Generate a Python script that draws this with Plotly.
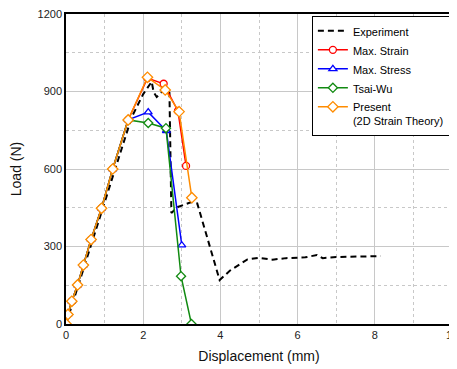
import plotly.graph_objects as go

# Shared initial loading points (displacement mm, load N)
x_common = [0.0, 0.05, 0.15, 0.30, 0.45, 0.65, 0.92, 1.21, 1.61]
y_common = [0, 37, 88, 151, 228, 327, 448, 600, 790]

exp_x = [0.0, 0.3, 0.7, 1.0, 1.3, 1.7, 2.0, 2.22, 2.27, 2.35, 2.45, 2.55, 2.68, 2.73,
         2.9, 3.25, 3.4, 3.98, 4.25, 4.7, 5.0, 5.35, 5.7, 6.2, 6.5, 6.65, 7.0, 7.5, 8.15]
exp_y = [0, 140, 330, 470, 610, 800, 890, 938, 898, 879, 893, 910, 895, 430,
         453, 472, 467, 170, 207, 250, 256, 249, 255, 258, 267, 255, 259, 261, 263]

strain_x = x_common + [2.11, 2.53, 2.90, 3.11]
strain_y = y_common + [952, 930, 825, 612]

stress_x = x_common + [2.13, 2.60, 3.00]
stress_y = y_common + [820, 748, 305]

tsai_x = x_common + [2.13, 2.59, 2.98, 3.25]
tsai_y = y_common + [778, 758, 185, 0]

present_x = x_common + [2.11, 2.57, 2.93, 3.26]
present_y = y_common + [955, 906, 822, 489]

FONT = "Liberation Sans, Arial, sans-serif"

fig = go.Figure()
fig.add_trace(go.Scatter(x=exp_x, y=exp_y, mode="lines", name="Experiment",
                         line=dict(color="black", width=2, dash="6px,4px")))
fig.add_trace(go.Scatter(x=strain_x, y=strain_y, mode="lines+markers", name="Max. Strain",
                         line=dict(color="#ff0000", width=1.5),
                         marker=dict(symbol="circle", size=7, color="white",
                                     line=dict(color="#ff0000", width=1.3))))
fig.add_trace(go.Scatter(x=stress_x, y=stress_y, mode="lines+markers", name="Max. Stress",
                         line=dict(color="#0000ff", width=1.5),
                         marker=dict(symbol="triangle-up", size=7, color="white",
                                     line=dict(color="#0000ff", width=1.3))))
fig.add_trace(go.Scatter(x=tsai_x, y=tsai_y, mode="lines+markers", name="Tsai-Wu",
                         line=dict(color="#118a11", width=1.5),
                         marker=dict(symbol="diamond", size=7, color="white",
                                     line=dict(color="#118a11", width=1.3))))
fig.add_trace(go.Scatter(x=present_x, y=present_y, mode="lines+markers",
                         name="Present<br>(2D Strain Theory)",
                         line=dict(color="#ff8c00", width=1.5),
                         marker=dict(symbol="diamond", size=8, color="white",
                                     line=dict(color="#ff8c00", width=1.3))))

axis_common = dict(showline=True, linecolor="black", linewidth=1.5, mirror=True,
                   showgrid=True, gridcolor="#c8c8c8", gridwidth=1, zeroline=False,
                   ticks="", automargin=False, ticklabeloverflow="allow",
                   tickfont=dict(family=FONT, size=11, color="#222"),
                   title_font=dict(family=FONT, size=14, color="#111"))

fig.update_xaxes(range=[0, 10], tickvals=[0, 2, 4, 6, 8, 10],
                 minor=dict(tickvals=[1, 3, 5, 7, 9], showgrid=True, gridcolor="#c8c8c8",
                            griddash="dot", gridwidth=1),
                 title_text="Displacement (mm)", title_standoff=11, **axis_common)
fig.update_yaxes(range=[0, 1200], tickvals=[0, 300, 600, 900, 1200],
                 minor=dict(tickvals=[150, 450, 750, 1050], showgrid=True, gridcolor="#c8c8c8",
                            griddash="dot", gridwidth=1),
                 title_text="Load (N)", title_standoff=15, **axis_common)

# the page body adds an 8px margin, so the figure is sized to compensate
fig.update_layout(
    width=449, height=361,
    margin=dict(l=58, r=5, t=6, b=45),
    paper_bgcolor="white", plot_bgcolor="white",
    font=dict(family=FONT, size=12, color="black"),
    legend=dict(x=0.637, y=0.993, xanchor="left", yanchor="top",
                bgcolor="white", bordercolor="black", borderwidth=1,
                font=dict(family=FONT, size=11, color="black"),
                valign="top", tracegroupgap=0, itemwidth=30),
)

fig.write_html("out.html")
